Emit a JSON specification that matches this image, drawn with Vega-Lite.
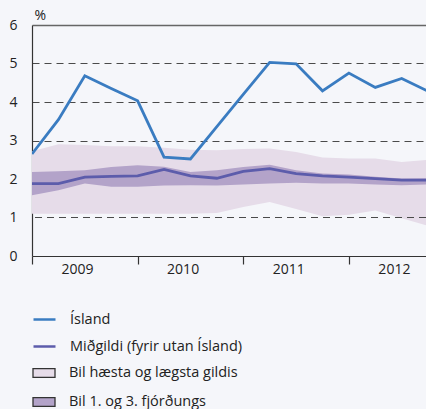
{
  "$schema": "https://vega.github.io/schema/vega-lite/v6.json",
  "width": 394,
  "height": 231,
  "autosize": {"type": "none"},
  "padding": {"left": 32, "top": 25, "right": 0, "bottom": 153},
  "background": "#f5f6fa",
  "config": {
    "font": "Open Sans",
    "view": {"stroke": null},
    "axis": {"labelFont": "Open Sans", "labelFontSize": 14, "labelColor": "#222", "titleFont": "Open Sans"},
    "axisY": {
      "titleAngle": 0, "titleAlign": "left", "titleBaseline": "middle",
      "titleX": 2, "titleY": -10, "titleFontSize": 14, "titleFontWeight": "normal", "titleColor": "#222",
      "ticks": false, "labelPadding": 15, "domainColor": "#333", "domainWidth": 1.2,
      "grid": true, "zindex": 0, "tickCount": 7, "labelOverlap": false
    },
    "legend": {"labelFont": "Open Sans", "labelFontSize": 14.5, "labelColor": "#222", "labelLimit": 300}
  },
  "data": {"values": [
    {"t": 2009.00, "island": 2.65, "med": 1.88, "q1": 1.58, "q3": 2.18, "min": 1.10, "max": 2.72},
    {"t": 2009.25, "island": 3.54, "med": 1.88, "q1": 1.71, "q3": 2.20, "min": 1.10, "max": 2.90},
    {"t": 2009.50, "island": 4.68, "med": 2.05, "q1": 1.88, "q3": 2.23, "min": 1.10, "max": 2.88},
    {"t": 2009.75, "island": 4.35, "med": 2.07, "q1": 1.80, "q3": 2.31, "min": 1.10, "max": 2.85},
    {"t": 2010.00, "island": 4.03, "med": 2.08, "q1": 1.80, "q3": 2.36, "min": 1.10, "max": 2.85},
    {"t": 2010.25, "island": 2.57, "med": 2.25, "q1": 1.83, "q3": 2.32, "min": 1.10, "max": 2.81},
    {"t": 2010.50, "island": 2.52, "med": 2.08, "q1": 1.84, "q3": 2.18, "min": 1.10, "max": 2.76},
    {"t": 2010.75, "island": 3.36, "med": 2.02, "q1": 1.83, "q3": 2.23, "min": 1.12, "max": 2.75},
    {"t": 2011.00, "island": 4.20, "med": 2.20, "q1": 1.86, "q3": 2.31, "min": 1.27, "max": 2.78},
    {"t": 2011.25, "island": 5.03, "med": 2.27, "q1": 1.88, "q3": 2.37, "min": 1.40, "max": 2.79},
    {"t": 2011.50, "island": 4.99, "med": 2.14, "q1": 1.90, "q3": 2.23, "min": 1.22, "max": 2.70},
    {"t": 2011.75, "island": 4.29, "med": 2.08, "q1": 1.88, "q3": 2.14, "min": 1.03, "max": 2.56},
    {"t": 2012.00, "island": 4.75, "med": 2.05, "q1": 1.88, "q3": 2.12, "min": 1.07, "max": 2.53},
    {"t": 2012.25, "island": 4.38, "med": 2.01, "q1": 1.86, "q3": 2.06, "min": 1.18, "max": 2.53},
    {"t": 2012.50, "island": 4.61, "med": 1.97, "q1": 1.84, "q3": 2.01, "min": 0.98, "max": 2.44},
    {"t": 2012.75, "island": 4.28, "med": 1.97, "q1": 1.86, "q3": 2.02, "min": 0.78, "max": 2.50}
  ]},
  "layer": [
    {
      "mark": {"type": "area", "clip": true},
      "encoding": {
        "x": {
          "field": "t", "type": "quantitative",
          "scale": {"domain": [2009, 2012.73], "nice": false, "zero": false},
          "axis": {
            "title": null, "values": [2009, 2010, 2011, 2012], "format": "d",
            "grid": false, "tickSize": 8, "tickColor": "#333", "tickWidth": 1.2,
            "domainColor": "#333", "domainWidth": 1.2,
            "labelOffset": 45, "labelPadding": -2, "labelAlign": "center", "labelFlush": false
          }
        },
        "y": {
          "field": "min", "type": "quantitative",
          "scale": {"domain": [0, 6], "nice": false},
          "axis": {
            "title": "%", "values": [0, 1, 2, 3, 4, 5, 6],
            "gridColor": {"condition": {"test": "datum.value === 6", "value": "#666"}, "value": "#4a4a4a"},
            "gridDash": {"condition": {"test": "datum.value === 6 || datum.value === 0", "value": []}, "value": [7, 5]},
            "gridWidth": {"condition": {"test": "datum.value === 6", "value": 1.6}, "value": 1.2},
            "gridOpacity": {"condition": {"test": "datum.value === 0 || datum.value === 1", "value": 0}, "value": 1}
          }
        },
        "y2": {"field": "max"},
        "fill": {
          "datum": "Bil hæsta og lægsta gildis",
          "scale": {"domain": ["Bil hæsta og lægsta gildis", "Bil 1. og 3. fjórðungs"], "range": ["#e6dce9", "#b3a3c9"]},
          "legend": {
            "title": null, "orient": "none", "legendX": 0, "legendY": 336, "padding": 0,
            "symbolType": "M-1,-0.4H1V0.4H-1Z", "symbolSize": 484,
            "symbolStrokeColor": "#333", "symbolStrokeWidth": 1.3, "symbolOpacity": 1,
            "labelOffset": 13, "rowPadding": 10
          }
        }
      }
    },
    {
      "data": {"values": [{"grid": 1}]},
      "mark": {"type": "rule", "strokeDash": [7, 5], "strokeWidth": 1.2, "color": "#4a4a4a"},
      "encoding": {"y": {"field": "grid", "type": "quantitative", "title": "%"}}
    },
    {
      "mark": {"type": "area", "clip": true},
      "encoding": {
        "x": {"field": "t", "type": "quantitative"},
        "y": {"field": "q1", "type": "quantitative", "title": "%"},
        "y2": {"field": "q3"},
        "fill": {"datum": "Bil 1. og 3. fjórðungs"}
      }
    },
    {
      "mark": {"type": "line", "clip": true, "strokeWidth": 2.8},
      "encoding": {
        "x": {"field": "t", "type": "quantitative"},
        "y": {"field": "med", "type": "quantitative", "title": "%"},
        "stroke": {
          "datum": "Miðgildi (fyrir utan Ísland)",
          "scale": {"domain": ["Ísland", "Miðgildi (fyrir utan Ísland)"], "range": ["#3a7cc1", "#5c5cab"]},
          "legend": {
            "title": null, "orient": "none", "legendX": 0, "legendY": 282, "padding": 0,
            "symbolType": "stroke", "symbolSize": 484, "symbolStrokeWidth": 2.5,
            "labelOffset": 13, "rowPadding": 8
          }
        }
      }
    },
    {
      "mark": {"type": "line", "clip": true, "strokeWidth": 2.8},
      "encoding": {
        "x": {"field": "t", "type": "quantitative"},
        "y": {"field": "island", "type": "quantitative", "title": "%"},
        "stroke": {"datum": "Ísland"}
      }
    }
  ]
}
